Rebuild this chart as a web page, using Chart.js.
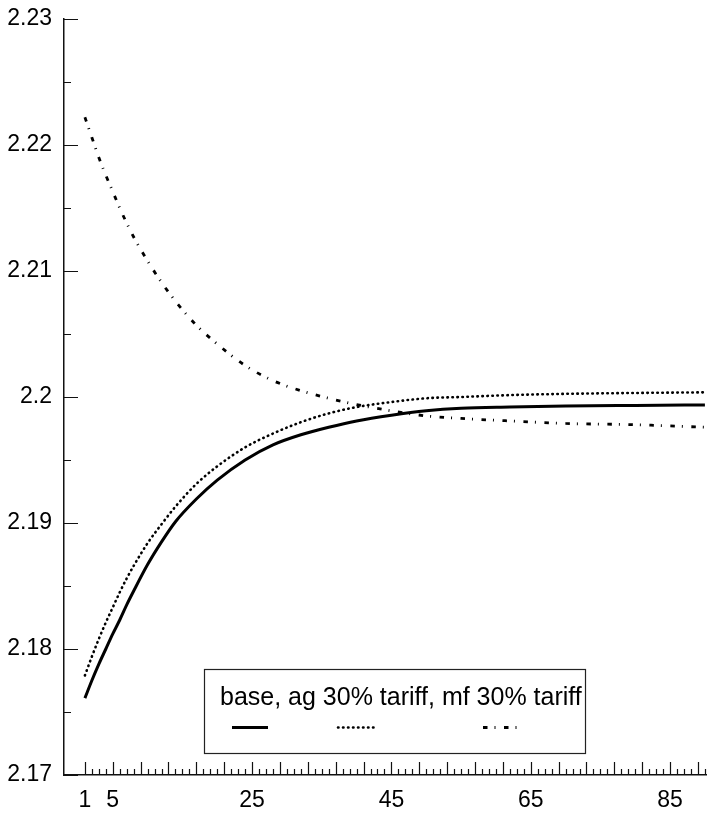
<!DOCTYPE html>
<html>
<head>
<meta charset="utf-8">
<script src="https://cdn.jsdelivr.net/npm/chart.js@4/dist/chart.umd.min.js"></script>
<style>
  html, body { margin: 0; padding: 0; background: #fff; }
  #wrap { width: 707px; height: 824px; }
</style>
</head>
<body>
<div id="wrap"><canvas id="c" width="707" height="824"></canvas></div>
<script>
// ---- data ----
const years = [1, 2, 3, 4, 5, 6, 7, 8, 10, 12, 14, 17, 20, 24, 28, 32, 36, 40, 45, 50, 55, 62, 70, 80, 90];
const base  = [2.1761, 2.1775, 2.1788, 2.1800, 2.1812, 2.1823, 2.1835, 2.1846, 2.1867, 2.1885, 2.1901, 2.1919, 2.1934, 2.1950, 2.1962, 2.1970, 2.1976, 2.1981, 2.19855, 2.1989, 2.1991, 2.1992, 2.19928, 2.19933, 2.19937];
const ag30  = [2.1779, 2.1794, 2.1808, 2.1821, 2.1833, 2.1845, 2.1856, 2.1866, 2.1884, 2.1899, 2.1913, 2.1931, 2.1945, 2.1960, 2.1971, 2.1980, 2.1987, 2.1992, 2.1996, 2.1999, 2.2000, 2.20015, 2.20025, 2.20032, 2.20037];
const mf30  = [2.2222, 2.2206, 2.2190, 2.2176, 2.2163, 2.2150, 2.2138, 2.2127, 2.2108, 2.2091, 2.2076, 2.2057, 2.2042, 2.2025, 2.2013, 2.2005, 2.1999, 2.1994, 2.1989, 2.1985, 2.1983, 2.1981, 2.1979, 2.1978, 2.1976];
const seriesNames = ["base", "ag 30% tariff", "mf 30% tariff"];
const xTickLabels = [1, 5, 25, 45, 65, 85];
const yTickLabels = [2.17, 2.18, 2.19, 2.2, 2.21, 2.22, 2.23];

const FONT = '"Liberation Sans", Arial, Helvetica, sans-serif';
const toPts = arr => years.map((x, i) => ({ x: x, y: arr[i] }));

const tickPlugin = {
  id: 'innerTicks',
  afterDatasetsDraw(chart) {
    const { ctx, chartArea, scales: { x, y } } = chart;
    ctx.save();
    ctx.strokeStyle = '#111';
    ctx.lineWidth = 1.2;
    ctx.beginPath();
    // x: minor every 1, major every 4 starting at 1
    for (let v = 1; v <= Math.floor(x.max); v++) {
      const px = Math.round(x.getPixelForValue(v)) + 0.5;
      const len = ((v - 1) % 4 === 0) ? 13 : 6;
      ctx.moveTo(px, chartArea.bottom);
      ctx.lineTo(px, chartArea.bottom - len);
    }
    // y: major at labels, minor halfway
    for (let i = 0; i < yTickLabels.length; i++) {
      const py = Math.round(y.getPixelForValue(yTickLabels[i])) + 0.5;
      ctx.moveTo(chartArea.left, py);
      ctx.lineTo(chartArea.left + 14, py);
      if (i < yTickLabels.length - 1) {
        const mid = (yTickLabels[i] + yTickLabels[i + 1]) / 2;
        const pm = Math.round(y.getPixelForValue(mid)) + 0.5;
        ctx.moveTo(chartArea.left, pm);
        ctx.lineTo(chartArea.left + 7, pm);
      }
    }
    ctx.stroke();
    ctx.restore();
  }
};

const legendPlugin = {
  id: 'boxLegend',
  afterDraw(chart) {
    const { ctx, chartArea } = chart;
    const bx = chartArea.left + 140, by = chartArea.top + 650, bw = 381, bh = 84;
    ctx.save();
    ctx.fillStyle = '#fff';
    ctx.fillRect(bx, by, bw, bh);
    ctx.strokeStyle = '#222';
    ctx.lineWidth = 1.2;
    ctx.strokeRect(bx + 0.5, by + 0.5, bw, bh);
    ctx.fillStyle = '#000';
    ctx.font = '25px ' + FONT;
    ctx.textBaseline = 'alphabetic';
    ctx.textAlign = 'left';
    ctx.fillText(seriesNames.join(', '), bx + 16, by + 36);
    const sampleX = [bx + 28, bx + 134, bx + 279];
    const sy = by + 58.5;
    chart.data.datasets.forEach((ds, i) => {
      ctx.beginPath();
      ctx.strokeStyle = ds.borderColor;
      ctx.lineWidth = ds.borderWidth;
      ctx.setLineDash(ds.borderDash || []);
      ctx.lineCap = ds.borderCapStyle || 'butt';
      ctx.moveTo(sampleX[i], sy);
      ctx.lineTo(sampleX[i] + 36, sy);
      ctx.stroke();
    });
    ctx.restore();
  }
};

new Chart(document.getElementById('c'), {
  type: 'line',
  data: {
    datasets: [
      { label: seriesNames[0], data: toPts(base), borderColor: '#000', borderWidth: 3,
        pointRadius: 0, cubicInterpolationMode: 'monotone', fill: false },
      { label: seriesNames[1], data: toPts(ag30), borderColor: '#000', borderWidth: 2.6,
        borderDash: [0.5, 4.5], borderCapStyle: 'round', pointRadius: 0, cubicInterpolationMode: 'monotone', fill: false },
      { label: seriesNames[2], data: toPts(mf30), borderColor: '#000', borderWidth: 2.8,
        borderDash: [4.5, 7, 1, 8.5], pointRadius: 0, cubicInterpolationMode: 'monotone', fill: false }
    ]
  },
  options: {
    responsive: false,
    animation: false,
    devicePixelRatio: 1,
    layout: { padding: { top: 19, right: 0, left: 0, bottom: 0 } },
    plugins: { legend: { display: false }, tooltip: { enabled: false } },
    scales: {
      x: {
        type: 'linear', min: -2, max: 90.3,
        afterBuildTicks: s => { s.ticks = xTickLabels.map(v => ({ value: v })); },
        afterFit: s => { s.height = 49; s.paddingLeft = 0; s.paddingRight = 0; },
        grid: { display: true, drawOnChartArea: false, drawTicks: false },
        border: { display: true, color: '#111', width: 1.5 },
        ticks: { autoSkip: false, maxRotation: 0, padding: 12, color: '#000',
                 font: { family: FONT, size: 23 }, callback: v => String(v) }
      },
      y: {
        type: 'linear', min: 2.17, max: 2.23,
        afterBuildTicks: s => { s.ticks = yTickLabels.map(v => ({ value: v })); },
        afterFit: s => { s.width = 64; s.paddingTop = 0; s.paddingBottom = 0; },
        grid: { display: true, drawOnChartArea: false, drawTicks: false },
        border: { display: true, color: '#111', width: 1.5 },
        ticks: { padding: 12, color: '#000', font: { family: FONT, size: 23 },
                 callback: v => String(Number(Number(v).toFixed(3))) }
      }
    }
  },
  plugins: [tickPlugin, legendPlugin]
});
</script>
</body>
</html>
